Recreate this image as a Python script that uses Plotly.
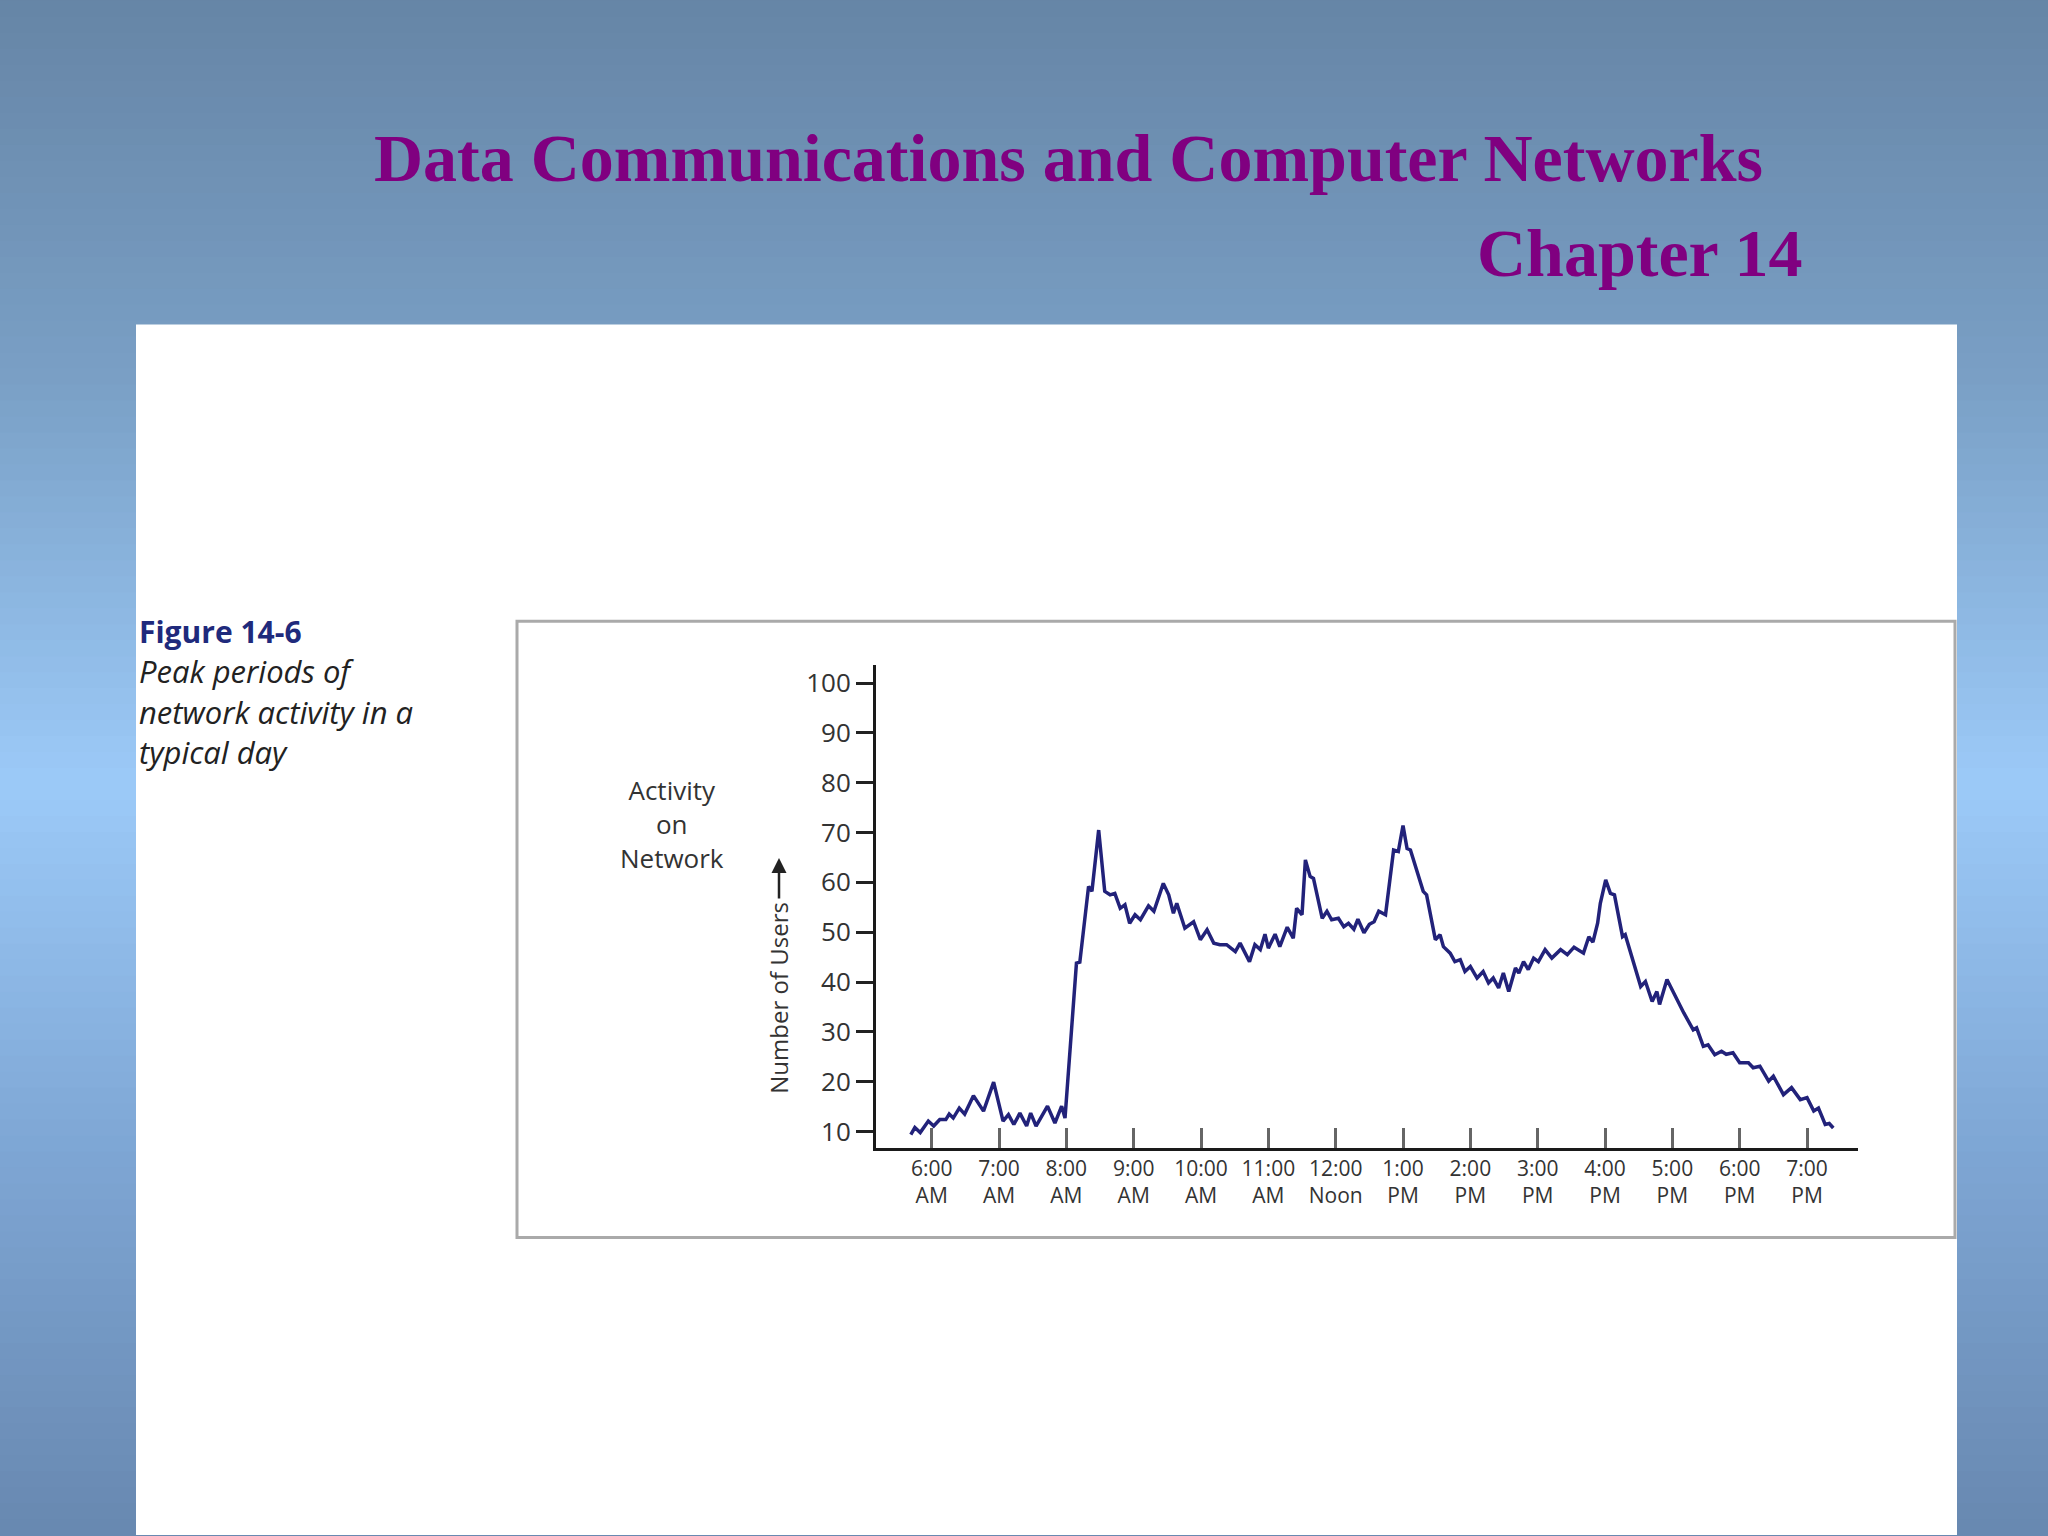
import plotly.graph_objects as go

# ---------------- data ----------------
hours = [5.69, 5.75, 5.83, 5.95, 6.03, 6.12, 6.21, 6.26, 6.32, 6.41, 6.49, 6.62, 6.77, 6.92,
         7.06, 7.14, 7.22, 7.31, 7.41, 7.47, 7.55, 7.72, 7.83, 7.93, 7.98,
         8.15, 8.20, 8.33, 8.38, 8.48, 8.57, 8.65, 8.72, 8.80, 8.87, 8.94,
         9.02, 9.10, 9.22, 9.30, 9.44, 9.52, 9.59, 9.64, 9.76, 9.89, 9.99,
         10.09, 10.19, 10.28, 10.38, 10.51, 10.58, 10.72, 10.80, 10.88, 10.95,
         11.00, 11.10, 11.17, 11.28, 11.37, 11.42, 11.50, 11.55, 11.62, 11.67, 11.80, 11.87, 11.94,
         12.04, 12.12, 12.19, 12.27, 12.33, 12.42, 12.50, 12.57, 12.64, 12.74, 12.86, 12.93,
         13.00, 13.06, 13.11, 13.30, 13.35, 13.48, 13.55, 13.60, 13.70, 13.77, 13.85, 13.92,
         14.00, 14.10, 14.19, 14.27, 14.34, 14.42, 14.49, 14.57, 14.67, 14.72, 14.79, 14.86, 14.94,
         15.01, 15.11, 15.21, 15.34, 15.44, 15.54, 15.68, 15.76, 15.82, 15.89, 15.93,
         16.01, 16.08, 16.14, 16.26, 16.30, 16.43, 16.53, 16.60, 16.70, 16.77, 16.81, 16.92,
         17.02, 17.17, 17.31, 17.36, 17.46, 17.53, 17.63, 17.73, 17.80, 17.90,
         18.00, 18.13, 18.20, 18.30, 18.43, 18.50, 18.65, 18.77, 18.90,
         19.00, 19.10, 19.17, 19.27, 19.33, 19.39]
users = [9.4, 10.8, 9.8, 12.1, 11.1, 12.4, 12.4, 13.5, 12.7, 14.7, 13.5, 17.2, 14.1, 19.9,
         12.1, 13.4, 11.4, 13.7, 11.1, 13.7, 11.1, 15.1, 11.7, 15.1, 12.7,
         43.8, 44.0, 59.2, 58.2, 70.5, 58.2, 57.5, 57.8, 54.8, 55.5, 51.8,
         53.5, 52.5, 55.3, 54.2, 59.8, 57.5, 53.8, 55.8, 50.8, 52.1, 48.5,
         50.5, 47.8, 47.5, 47.5, 46.1, 47.8, 44.1, 47.5, 46.5, 49.6,
         46.8, 49.6, 47.1, 51.0, 48.8, 54.8, 53.5, 64.5, 61.2, 60.8, 52.8, 54.2, 52.5,
         52.8, 51.1, 51.8, 50.6, 52.6, 49.9, 51.6, 52.1, 54.2, 53.5, 66.5, 66.2,
         71.4, 66.8, 66.5, 58.2, 57.5, 48.5, 49.5, 47.1, 45.8, 44.1, 44.5, 42.1,
         43.1, 40.8, 42.1, 39.8, 40.8, 38.8, 41.8, 38.1, 42.8, 41.8, 44.1, 42.5, 44.8,
         44.1, 46.5, 44.8, 46.5, 45.5, 47.0, 45.8, 49.1, 48.0, 51.8, 55.8,
         60.5, 57.8, 57.5, 49.1, 49.5, 43.5, 39.1, 40.1, 36.1, 38.1, 35.5, 40.5,
         37.8, 33.8, 30.4, 30.8, 27.1, 27.4, 25.4, 26.1, 25.5, 25.8,
         23.8, 23.8, 22.8, 23.1, 20.1, 21.1, 17.4, 18.8, 16.4,
         16.8, 14.1, 14.7, 11.4, 11.6, 10.7]

x_tick_vals = [6, 7, 8, 9, 10, 11, 12, 13, 14, 15, 16, 17, 18, 19]
x_tick_text = ["6:00<br>AM", "7:00<br>AM", "8:00<br>AM", "9:00<br>AM", "10:00<br>AM",
               "11:00<br>AM", "12:00<br>Noon", "1:00<br>PM", "2:00<br>PM", "3:00<br>PM",
               "4:00<br>PM", "5:00<br>PM", "6:00<br>PM", "7:00<br>PM"]
y_tick_vals = [10, 20, 30, 40, 50, 60, 70, 80, 90, 100]

W, H = 2048, 1536


def px(x):
    return x / W


def py(y):
    return 1 - y / H


# ---------------- background gradient ----------------
stops = [(0, (102, 133, 166)), (384, (122, 160, 198)), (784, (156, 202, 248)),
         (1150, (126, 166, 212)), (1536, (104, 136, 176))]


def grad_color(y):
    for (y0, c0), (y1, c1) in zip(stops[:-1], stops[1:]):
        if y0 <= y <= y1:
            t = (y - y0) / (y1 - y0)
            return "rgb(%d,%d,%d)" % tuple(round(a + (b - a) * t) for a, b in zip(c0, c1))
    return "rgb(%d,%d,%d)" % stops[-1][1]


shapes = []
step = 16
for y in range(0, H, step):
    shapes.append(dict(type="rect", xref="paper", yref="paper", x0=0, x1=1,
                       y0=py(y + step + 1), y1=py(y), line=dict(width=0),
                       fillcolor=grad_color(y + step / 2), layer="below"))
# white slide area
shapes.append(dict(type="rect", xref="paper", yref="paper", x0=px(136), x1=px(1957),
                   y0=0, y1=py(324), line=dict(width=0), fillcolor="white", layer="below"))
# chart frame
shapes.append(dict(type="rect", xref="paper", yref="paper", x0=px(517), x1=px(1955),
                   y0=py(1238), y1=py(621), line=dict(width=3, color="#aaaaaa"),
                   fillcolor="white", layer="below"))

fig = go.Figure()
fig.add_trace(go.Scatter(x=hours, y=users, mode="lines",
                         line=dict(color="#22227a", width=3.5), showlegend=False,
                         hoverinfo="skip"))

tick_font = dict(family="Open Sans", color="#333333")

annotations = [
    dict(text="<b>Data Communications and Computer Networks</b>", x=px(1068), y=py(157),
         xref="paper", yref="paper", xanchor="center", yanchor="middle", showarrow=False,
         font=dict(family="Liberation Serif", size=68, color="#800080")),
    dict(text="<b>Chapter 14</b>", x=px(1805), y=py(252), xref="paper", yref="paper",
         xanchor="right", yanchor="middle", showarrow=False,
         font=dict(family="Liberation Serif", size=68, color="#800080")),
    dict(text="<b>Figure 14-6</b>", x=px(137), y=py(631), xref="paper", yref="paper",
         xanchor="left", yanchor="middle", showarrow=False,
         font=dict(family="Open Sans", size=30, color="#1f2a7c")),
    dict(text="<i>Peak periods of</i>", x=px(137), y=py(671), xref="paper", yref="paper",
         xanchor="left", yanchor="middle", showarrow=False,
         font=dict(family="Open Sans", size=31, color="#222222")),
    dict(text="<i>network activity in a</i>", x=px(137), y=py(712), xref="paper", yref="paper",
         xanchor="left", yanchor="middle", showarrow=False,
         font=dict(family="Open Sans", size=31, color="#222222")),
    dict(text="<i>typical day</i>", x=px(137), y=py(752), xref="paper", yref="paper",
         xanchor="left", yanchor="middle", showarrow=False,
         font=dict(family="Open Sans", size=31, color="#222222")),
    dict(text="Activity<br>on<br>Network", x=px(672), y=py(824), xref="paper", yref="paper",
         xanchor="center", yanchor="middle", showarrow=False, align="center",
         font=dict(family="Open Sans", size=26, color="#333333")),
    dict(text="Number of Users", x=px(779), y=py(998), xref="paper", yref="paper",
         xanchor="center", yanchor="middle", showarrow=False, textangle=-90,
         font=dict(family="Open Sans", size=24, color="#333333")),
    dict(text="", x=px(779), y=py(858), xref="paper", yref="paper", showarrow=True,
         ax=0, ay=42, axref="pixel", ayref="pixel", arrowhead=2, arrowsize=1.2,
         arrowwidth=2.5, arrowcolor="#222222"),
]

fig.update_layout(
    width=W, height=H,
    margin=dict(l=0, r=0, t=0, b=0),
    paper_bgcolor=grad_color(0),
    plot_bgcolor="rgba(0,0,0,0)",
    shapes=shapes,
    annotations=annotations,
    xaxis=dict(domain=[px(876), px(1858)], range=[5.173, 19.757],
               tickvals=x_tick_vals, ticktext=x_tick_text, ticks="inside",
               ticklen=20, tickwidth=3, tickcolor="#666666",
               showline=True, linewidth=3, linecolor="#1a1a1a",
               showgrid=False, zeroline=False,
               tickfont=dict(size=21, **tick_font)),
    yaxis=dict(domain=[py(1148), py(665)], range=[6.79, 103.6],
               tickvals=y_tick_vals, ticks="outside", ticklen=17, tickwidth=3,
               tickcolor="#222222", showline=True, linewidth=3, linecolor="#1a1a1a",
               showgrid=False, zeroline=False, ticklabelstandoff=0,
               tickfont=dict(size=26, **tick_font)),
)

fig.write_html("out.html", config={"displayModeBar": False},
               post_script="document.body.style.margin='0';document.body.style.overflow='hidden';")
